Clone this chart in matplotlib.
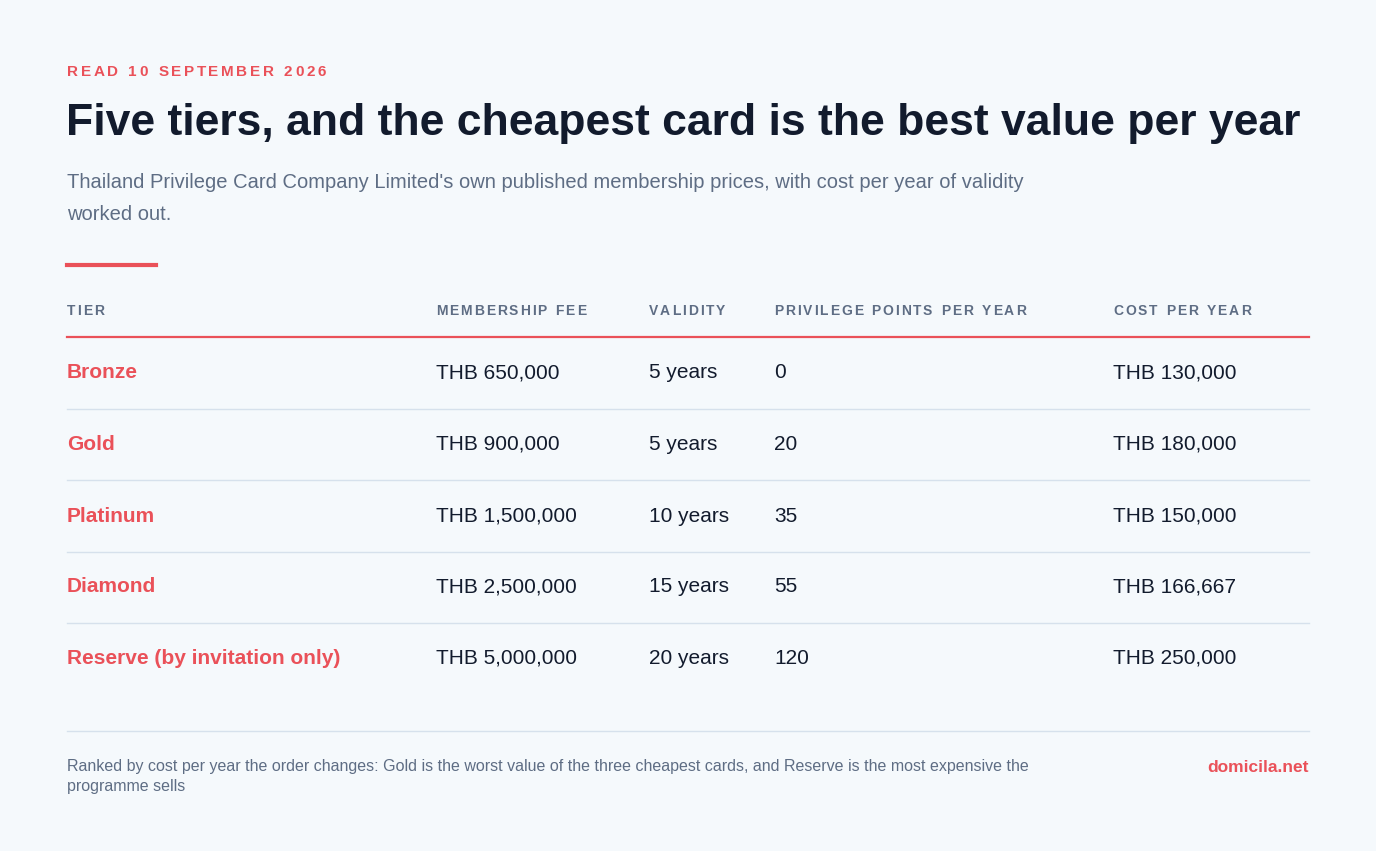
import matplotlib
matplotlib.use("Agg")
import matplotlib.pyplot as plt

# ── Data ──────────────────────────────────────────────────────────────────────
tiers = ["Bronze", "Gold", "Platinum", "Diamond", "Reserve (by invitation only)"]
fees = ["THB 650,000", "THB 900,000", "THB 1,500,000", "THB 2,500,000", "THB 5,000,000"]
validity = ["5 years", "5 years", "10 years", "15 years", "20 years"]
points = ["0", "20", "35", "55", "120"]
cost_per_year = ["THB 130,000", "THB 180,000", "THB 150,000", "THB 166,667", "THB 250,000"]
headers = ["TIER", "MEMBERSHIP FEE", "VALIDITY", "PRIVILEGE POINTS PER YEAR", "COST PER YEAR"]

# ── Style ─────────────────────────────────────────────────────────────────────
W, H = 1376, 851
BG = "#f5f9fc"
RED = "#ea5159"
NAVY = "#121b2d"
GREY = "#5e6d84"
RULE = "#d6e1ec"
FONT = "Liberation Sans"

fig = plt.figure(figsize=(W / 100, H / 100), dpi=100, facecolor=BG)
renderer = fig.canvas.get_renderer()


def fx(x):
    return x / W


def fy(y):
    return 1 - y / H


def txt(x, y, s, **kw):
    kw.setdefault("family", FONT)
    return fig.text(fx(x), fy(y), s, va="center", **kw)


def tracked(x, y, s, spacing, **kw):
    # draw char by char to get letter spacing
    for ch in s:
        t = txt(x, y, ch, **kw)
        w = t.get_window_extent(renderer).width if ch != " " else None
        if w is None:
            tmp = txt(0, 0, "n", **kw)
            w = tmp.get_window_extent(renderer).width * 0.55
            tmp.remove()
        x += w + spacing


def hline(y, x0, x1, color, lw):
    fig.add_artist(plt.Line2D([fx(x0), fx(x1)], [fy(y), fy(y)], color=color,
                              linewidth=lw, transform=fig.transFigure))


# ── Heading ───────────────────────────────────────────────────────────────────
tracked(67, 72, "READ 10 SEPTEMBER 2026", 2.6, fontsize=11, color=RED, weight="bold")
txt(66, 124, "Five tiers, and the cheapest card is the best value per year",
    fontsize=32, color=NAVY, weight="bold")
txt(67, 183, "Thailand Privilege Card Company Limited's own published membership prices, with cost per year of validity",
    fontsize=14.5, color=GREY)
txt(67, 215, "worked out.", fontsize=14.5, color=GREY)
hline(265, 67, 156, RED, 3)

# ── Table ─────────────────────────────────────────────────────────────────────
col_x = [67, 436, 649, 774, 1113]
for cx, h in zip(col_x, headers):
    tracked(cx, 311, h, 1.9, fontsize=10, color=GREY, weight="bold")
hline(337, 67, 1309, RED, 1.6)

row_y = [373, 444, 516, 587, 658]
for i, ry in enumerate(row_y):
    txt(col_x[0], ry, tiers[i], fontsize=15, color=RED, weight="bold")
    txt(col_x[1], ry, fees[i], fontsize=15, color=NAVY)
    txt(col_x[2], ry, validity[i], fontsize=15, color=NAVY)
    txt(col_x[3], ry, points[i], fontsize=15, color=NAVY)
    txt(col_x[4], ry, cost_per_year[i], fontsize=15, color=NAVY)
    if i < len(row_y) - 1:
        hline(ry + 35.5, 67, 1309, RULE, 1)

# ── Footer ────────────────────────────────────────────────────────────────────
hline(731, 67, 1309, RULE, 1)
txt(67, 767, "Ranked by cost per year the order changes: Gold is the worst value of the three cheapest cards, and Reserve is the most expensive the",
    fontsize=11.5, color=GREY)
txt(67, 787, "programme sells", fontsize=11.5, color=GREY)
txt(1309, 767, "domicila.net", fontsize=12.5, color=RED, weight="bold", ha="right")

fig.savefig("out.png", dpi=100, facecolor=BG)
